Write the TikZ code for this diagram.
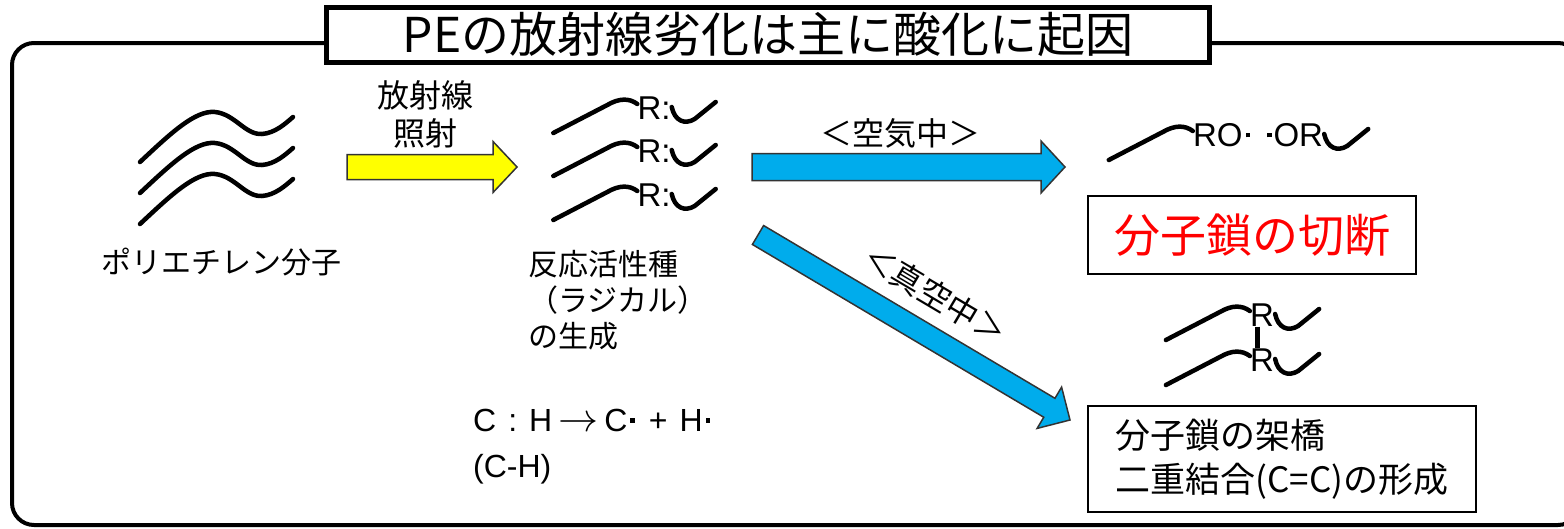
\RequirePackage{fix-cm}
\documentclass[tikz,border=0pt]{standalone}
\usepackage{fontspec}
\setmainfont{Liberation Sans}
\newfontfamily\jp{Noto Sans CJK JP}
\usetikzlibrary{calc}

\definecolor{radblue}{RGB}{0,172,236}
\definecolor{radyellow}{RGB}{255,255,0}

% unpaired electron
\newcommand\rdot{\kern3pt\rule[9pt]{4.5pt}{4.5pt}\kern2pt}

% fat arrow from #2 to #3, shaft half width #4, head half width #5
\newcommand\blockarrow[5][]{%
  \draw[#1] ($(#2)!#4!90:(#3)$) -- ($(#3)!24pt!(#2)!#4!90:(#3)$)
    -- ($(#3)!24pt!(#2)!#5!90:(#3)$) -- (#3)
    -- ($(#3)!24pt!(#2)!#5!-90:(#3)$) -- ($(#3)!24pt!(#2)!#4!-90:(#3)$)
    -- ($(#2)!#4!-90:(#3)$) -- cycle;}

\tikzset{
  chain/.style={line width=4.5pt, line cap=round},
  rlabel/.style={inner sep=0pt, font=\fontsize{33}{38}\selectfont},
  jplabel/.style={inner sep=0pt, font=\jp\fontsize{32}{38}\selectfont},
  titlebox/.style={draw, line width=5pt, fill=white, inner sep=0pt,
    minimum width=883pt, minimum height=55pt, font=\jp\fontsize{48}{50}\selectfont},
  resultbox/.style={draw, line width=2.5pt, inner sep=0pt},
  arrowline/.style={draw=black!80, line width=1.5pt, line join=miter},
  wave/.pic={\draw[chain] (0,0) .. controls (30,-28) and (55,-52) .. (75,-50)
    .. controls (95,-48) and (105,-27) .. (122,-28)
    .. controls (135,-29) and (145,-38) .. (153,-45);},
  lchain/.pic={\draw[chain] (-84,25) -- (-30,-3) .. controls (-18,-10) and (-8,-10) .. (0,-4);},
  rhook/.pic={\draw[chain] (1,-1) .. controls (4,13) and (14,17) .. (24,11) -- (45,-6);}
}

\begin{document}
\begin{tikzpicture}[x=1pt, y=-1pt]
  \useasboundingbox (0,0) rectangle (1564,528);

  % outer frame and heading
  \draw[line width=4pt, rounded corners=22pt] (12,525) rectangle (1580,43);
  \node[titlebox] (title) at (768,34.5) {PEの放射線劣化は主に酸化に起因};

  % polyethylene
  \foreach \y in {162,193,224}
    \pic at (140,\y) {wave};
  \node[jplabel, font=\jp\fontsize{30}{36}\selectfont] (pe) at (221,262) {ポリエチレン分子};

  % irradiation
  \coordinate (irr-a) at (347,167);
  \coordinate (irr-b) at (517,167);
  \blockarrow[arrowline, fill=radyellow]{irr-a}{irr-b}{12.5pt}{25.5pt}
  \node[jplabel, align=center] (irr) at (425,114) {放射線\\照射};

  % radicals
  \foreach \n/\y in {1/108,2/151,3/195} {
    \node[rlabel] (r\n) at (654,\y) {R:};
    \pic at (r\n.west) {lchain};
    \pic at (r\n.east) {rhook};
  }
  \node[jplabel, align=left, anchor=west, font=\jp\fontsize{30}{36}\selectfont] (rad) at (528,300)
    {反応活性種\\（ラジカル）\\の生成};
  \node[inner sep=0pt, align=left, anchor=west, font=\fontsize{32}{46}\selectfont] (eq) at (473,447)
    {C\hspace{12pt}:\hspace{12pt}H\hspace{6pt}{\fontsize{40}{46}\selectfont$\rightarrow$}\hspace{6pt}C\rdot\hspace{12pt}+\hspace{12pt}H\rdot\\(C-H)};

  % in air
  \coordinate (air-a) at (752,167);
  \coordinate (air-b) at (1065,167);
  \blockarrow[arrowline, fill=radblue]{air-a}{air-b}{13.5pt}{26pt}
  \node[jplabel] (air) at (900,133) {＜空気中＞};

  \node[rlabel] (ro) at (1258,135) {RO\rdot\hspace{12pt}\rdot OR};
  \pic at (ro.west) {lchain};
  \pic at (ro.east) {rhook};
  \node[resultbox, minimum width=328pt, minimum height=78pt, text=red,
    font=\jp\fontsize{46}{50}\selectfont] (cut) at (1252,235) {分子鎖の切断};

  % in vacuum
  \coordinate (vac-a) at (758,235);
  \coordinate (vac-b) at (1070,420);
  \blockarrow[arrowline, fill=radblue]{vac-a}{vac-b}{11pt}{24pt}
  \node[jplabel, rotate=-30.67] (vac) at (935,295) {＜真空中＞};

  \node[rlabel] (xa) at (1262,315) {R};
  \node[rlabel] (xb) at (1262,360) {R};
  \foreach \r in {xa,xb} {
    \pic at (\r.west) {lchain};
    \pic at (\r.east) {rhook};
  }
  \draw[line width=5pt] ([xshift=-5pt]xa.south) -- ([xshift=-5pt]xb.north);
  \node[resultbox, minimum width=388pt, minimum height=106pt, align=left,
    font=\jp\fontsize{35}{44}\selectfont] (cross) at (1282,459)
    {分子鎖の架橋\\二重結合(C=C)の形成};
\end{tikzpicture}
\end{document}
